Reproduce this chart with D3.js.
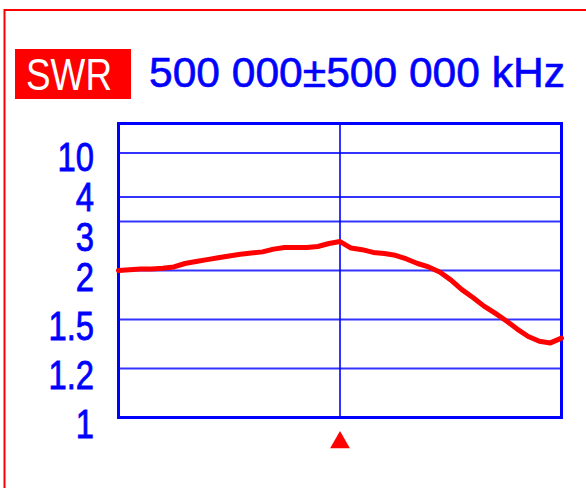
<!DOCTYPE html>
<html>
<head>
<meta charset="utf-8">
<script src="https://cdn.jsdelivr.net/npm/d3@7"></script>
<style>
  body { margin: 0; background: #fff; }
  text { font-family: "Liberation Sans", Arial, sans-serif; }
</style>
</head>
<body>
<script>
// sweep points, kHz
const freqs = [
  0, 25000, 50000, 75000, 100000, 125000, 150000, 175000, 200000, 225000,
  250000, 275000, 300000, 325000, 350000, 375000, 400000, 425000, 450000, 475000,
  500000, 525000, 550000, 575000, 600000, 625000, 650000, 675000, 700000, 725000,
  750000, 775000, 800000, 825000, 850000, 875000, 900000, 925000, 950000, 975000,
  1000000,
];

const swr = [
  2.0, 2.01, 2.02, 2.02, 2.03, 2.05, 2.1, 2.13, 2.16, 2.19,
  2.22, 2.25, 2.27, 2.29, 2.34, 2.37, 2.37, 2.37, 2.39, 2.45,
  2.49, 2.36, 2.33, 2.28, 2.26, 2.23, 2.17, 2.1, 2.05, 1.98,
  1.88, 1.77, 1.69, 1.61, 1.55, 1.49, 1.43, 1.38, 1.35, 1.34,
  1.37,
];

const swrTicks = [1, 1.2, 1.5, 2, 3, 4, 10];
const tickLabels = ["1", "1.2", "1.5", "2", "3", "4", "10"];

const centerKHz = 500000;
const spanKHz = 500000;
const title = "500 000±500 000 kHz";

const blue = "#0000ff";
const red = "#ff0000";

const svg = d3.select("body").append("svg")
  .attr("width", 586)
  .attr("height", 488);

const plotL = 118.5, plotR = 561.5, plotT = 123.5, plotB = 417.5;

const x = d3.scaleLinear()
  .domain([centerKHz - spanKHz, centerKHz + spanKHz])
  .range([plotL, plotR]);

// the screen maps SWR as 1 - 1/SWR, so infinity sits at the top edge
const g = d3.scaleLinear().domain([0, 1]).range([plotB, plotT]);
const y = (v) => g(1 - 1 / v);

// outer red frame
svg.append("path")
  .attr("d", `M4.5,488V10H586`)
  .attr("fill", "none")
  .attr("stroke", red)
  .attr("stroke-width", 2);

// header
svg.append("rect")
  .attr("x", 15).attr("y", 49)
  .attr("width", 116).attr("height", 50)
  .attr("fill", red);

svg.append("text")
  .attr("x", 26).attr("y", 90)
  .attr("font-size", 44)
  .attr("textLength", 86)
  .attr("lengthAdjust", "spacingAndGlyphs")
  .attr("fill", "#fff")
  .text("SWR");

svg.append("text")
  .attr("x", 149).attr("y", 87)
  .attr("font-size", 42)
  .attr("textLength", 416)
  .attr("lengthAdjust", "spacingAndGlyphs")
  .attr("fill", blue)
  .attr("stroke", blue)
  .attr("stroke-width", 0.6)
  .text(title);

// grid
svg.append("g")
  .selectAll("line")
  .data(swrTicks.filter((d) => d !== 1))
  .join("line")
  .attr("x1", plotL).attr("x2", plotR)
  .attr("y1", (d) => y(d)).attr("y2", (d) => y(d))
  .attr("stroke", blue)
  .attr("stroke-opacity", 0.8)
  .attr("stroke-width", 2);

svg.append("line")
  .attr("x1", x(centerKHz)).attr("x2", x(centerKHz))
  .attr("y1", plotT).attr("y2", plotB)
  .attr("stroke", blue)
  .attr("stroke-opacity", 0.8)
  .attr("stroke-width", 2);

svg.append("rect")
  .attr("x", plotL).attr("y", plotT)
  .attr("width", plotR - plotL).attr("height", plotB - plotT)
  .attr("fill", "none")
  .attr("stroke", blue)
  .attr("stroke-width", 3);

// labels, nudged apart where the lines are too close together
const fs = 40;
const gap = 40;
const pos = swrTicks.map((d) => y(d) + 6);
for (let k = 0; k < 20; k++) {
  for (let i = 0; i < pos.length - 1; i++) {
    const d = pos[i] - pos[i + 1];
    if (d < gap) {
      const push = (gap - d) / 2;
      pos[i] += push;
      pos[i + 1] -= push;
    }
  }
}
// keep the bottom label where it was
const shift = y(1) + 6 - pos[0];
svg.append("g")
  .selectAll("text")
  .data(tickLabels)
  .join("text")
  .attr("transform", (d, i) => `translate(94,${pos[i] + shift + fs * 0.358}) scale(0.82,1)`)
  .attr("text-anchor", "end")
  .attr("font-size", fs)
  .attr("fill", blue)
  .attr("stroke", blue)
  .attr("stroke-width", 0.8)
  .text((d) => d);

// trace
const line = d3.line()
  .x((d, i) => x(freqs[i]))
  .y((d) => y(d));

svg.append("path")
  .datum(swr)
  .attr("d", line)
  .attr("fill", "none")
  .attr("stroke", red)
  .attr("stroke-width", 5)
  .attr("stroke-linejoin", "round")
  .attr("stroke-linecap", "round");

// marker
svg.append("path")
  .attr("d", d3.symbol(d3.symbolTriangle, 170))
  .attr("transform", `translate(${x(centerKHz)},${plotB + 25})`)
  .attr("fill", red);
</script>
</body>
</html>
